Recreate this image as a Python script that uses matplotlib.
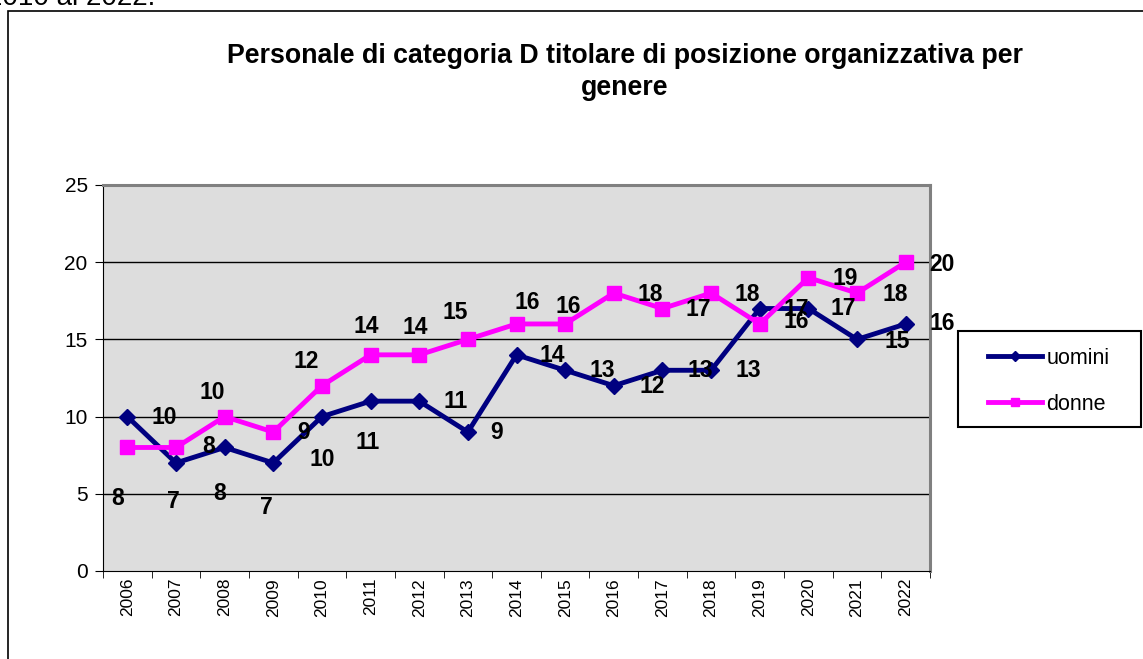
import matplotlib
matplotlib.use("Agg")
import matplotlib.pyplot as plt
from matplotlib.patches import Rectangle

plt.rcParams['font.family'] = ['Liberation Sans', 'DejaVu Sans']

# Dati
anni = ['2006', '2007', '2008', '2009', '2010', '2011', '2012', '2013', '2014',
        '2015', '2016', '2017', '2018', '2019', '2020', '2021', '2022']
uomini = [10, 7, 8, 7, 10, 11, 11, 9, 14, 13, 12, 13, 13, 17, 17, 15, 16]
donne = [8, 8, 10, 9, 12, 14, 14, 15, 16, 16, 18, 17, 18, 16, 19, 18, 20]

# spostamento delle etichette rispetto al punto (pixel, y verso il basso)
off_uomini = [(37, 1), (-3, 39), (-5, 46), (-7, 45), (0, 43), (-3, 41), (36, 0),
              (29, 0), (36, 1), (37, 0), (38, 1), (38, 0), (37, 0), (37, 1),
              (35, 0), (40, 2), (37, 0)]
off_donne = [(-10, 51), (33, -1), (-12, -24), (30, 0), (-16, -24), (-4, -28),
             (-4, -27), (-13, -27), (11, -21), (3, -17), (36, 1), (36, 1),
             (36, 1), (37, -2), (37, 1), (38, 1), (36, 2)]

W, H = 1143, 659
fig = plt.figure(figsize=(W / 100, H / 100), dpi=100)

# cornice del grafico
fig.patches.append(Rectangle((8 / W, -0.1), 1.2, 1 - 11 / H + 0.1,
                             transform=fig.transFigure, fill=False,
                             edgecolor='black', linewidth=1.2))
fig.text(155 / W, 1 - 5 / H, '2010 al 2022.', ha='right', va='baseline',
         fontsize=20)

ax = fig.add_axes([103 / W, 1 - 571 / H, 827 / W, (571 - 185) / H])
ax.set_facecolor('#DDDDDD')

x = list(range(len(anni)))
ax.plot(x, uomini, color='#000080', linewidth=3.5, marker='D', markersize=8,
        label='uomini', zorder=3)
ax.plot(x, donne, color='#FF00FF', linewidth=3.5, marker='s', markersize=10.5,
        label='donne', zorder=3)

for xi, v, (dx, dy) in zip(x, uomini, off_uomini):
    ax.annotate(str(v), (xi, v), xytext=(dx * 0.72, -dy * 0.72),
                textcoords='offset points', ha='center', va='center',
                fontsize=16.5, fontweight='bold', zorder=4)
for xi, v, (dx, dy) in zip(x, donne, off_donne):
    ax.annotate(str(v), (xi, v), xytext=(dx * 0.72, -dy * 0.72),
                textcoords='offset points', ha='center', va='center',
                fontsize=16.5, fontweight='bold', zorder=4)

ax.set_xlim(-0.5, len(anni) - 0.5)
ax.set_ylim(0, 25)
ax.set_yticks([0, 5, 10, 15, 20, 25])
ax.tick_params(axis='y', labelsize=15, length=6, direction='out', pad=5)
ax.set_xticks(x)
ax.set_xticklabels(anni, rotation=90, fontsize=12.5)
ax.set_xticks([i - 0.5 for i in range(len(anni) + 1)], minor=True)
ax.tick_params(axis='x', which='major', length=0, pad=5)
ax.tick_params(axis='x', which='minor', length=5, direction='out')

for y in [5, 10, 15, 20]:
    ax.axhline(y, color='black', linewidth=1, zorder=1)

ax.spines['top'].set_color('#808080')
ax.spines['right'].set_color('#808080')
ax.spines['top'].set_linewidth(2.2)
ax.spines['right'].set_linewidth(2.2)

fig.text(625 / W, 1 - 72 / H, 'Personale di categoria D titolare di posizione organizzativa per\ngenere',
         ha='center', va='center', fontsize=19.3, fontweight='bold',
         linespacing=1.3)

# riquadro della legenda
fig.patches.append(Rectangle((958 / W, 1 - 427 / H), 183 / W, 96 / H,
                             transform=fig.transFigure, fill=False,
                             edgecolor='black', linewidth=1.5))
ax.legend(loc='upper left', bbox_to_anchor=(988 / W, 1 - 348 / H),
          bbox_transform=fig.transFigure, frameon=False, fontsize=15.5,
          handlelength=2.5, handletextpad=0.2, labelspacing=1.15,
          borderpad=0, borderaxespad=0, markerscale=0.6)

plt.savefig('out.png', dpi=100)
